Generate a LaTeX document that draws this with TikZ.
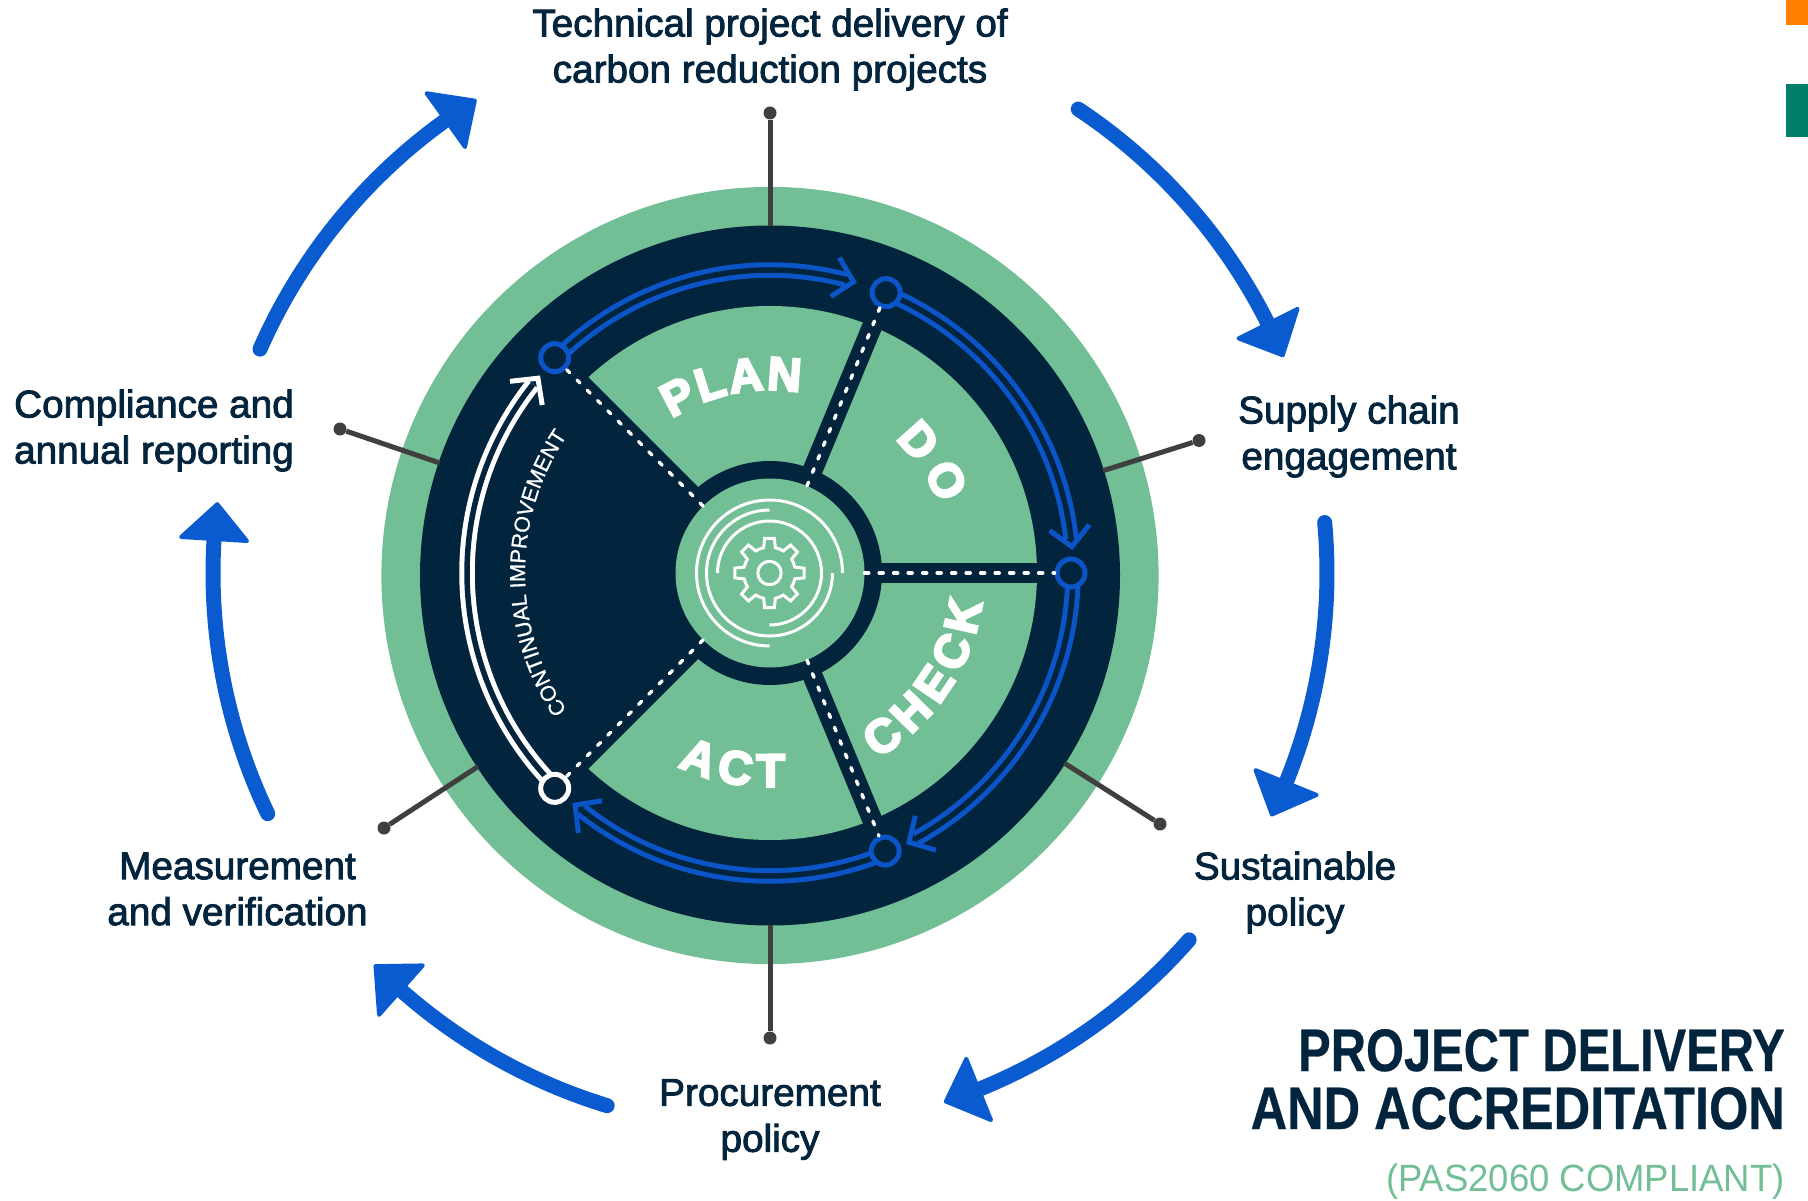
\documentclass[tikz,border=0pt]{standalone}
\usepackage{fontspec}
\usetikzlibrary{calc,decorations.text}
\setmainfont{Liberation Sans}
\newfontfamily\labfont[FakeBold=2.2]{Liberation Sans}
\newfontfamily\wedgefont[FakeBold=5]{Liberation Sans Bold}
\newfontfamily\titlefont[FakeBold=0.5]{Liberation Sans Bold}
\newfontfamily\plainfont{Liberation Sans}
\newfontfamily\smallfont[FakeBold=0.8]{Liberation Sans}
\definecolor{gr}{HTML}{72BE95}
\definecolor{nv}{HTML}{02243C}
\definecolor{bl}{HTML}{0A5BD0}
\definecolor{ibl}{HTML}{0B55C9}
\definecolor{ln}{HTML}{3F3F3F}
\definecolor{og}{HTML}{FF8000}
\definecolor{tl}{HTML}{007F68}
\tikzset{
  x=1pt,y=1pt,
  lab/.style={font=\labfont\fontsize{38.7}{46}\selectfont,text=nv,align=center,inner sep=0pt},
  lead/.style={draw=ln,line width=5pt},
  leadend/.style={circle,fill=ln,minimum size=13pt,inner sep=0pt},
  bigarc/.style={draw=bl,line width=15pt,line cap=round},
  bighead/.style={fill=bl,draw=bl,line width=4pt,line join=round},
  ringarc/.style={draw=#1,line width=5pt,double=nv,double distance=5.5pt},
  chev/.style={draw=#1,line width=5pt,line join=miter},
  ringnode/.style={circle,draw=#1,fill=nv,line width=5pt,minimum size=28pt,inner sep=0pt},
  dots/.style={draw=white,line width=3.5pt,line cap=round,dash pattern=on 4pt off 10.5pt},
  gearline/.style={draw=white,line width=3pt},
  spoke/.style={draw=nv,line width=20pt},
}
\begin{document}
\begin{tikzpicture}
\useasboundingbox (0,0) rectangle (1808,-1201);
\fill[white] (0,0) rectangle (1808,-1201);
\fill[og] (1786,0) rectangle (1808,-25);
\fill[tl] (1786,-84) rectangle (1808,-137);
\coordinate (c) at (770,-573);
\coordinate (co) at (770,-575.5);
% outer blue arrows
\begin{scope}[shift={(c)}]
\foreach \s/\t in {56.4/23,5.2/-25.7,-41.2/-71.6,-107/-135.1,205.6/172.9,156.3/122}{
  \draw[bigarc] (\s:557) arc[start angle=\s,end angle=\t+3.6,radius=557];
  \filldraw[bighead] (\t:557) -- (\t+3.6:590) -- (\t+3.6:524) -- cycle;
}
\end{scope}
% wheel outer discs
\fill[gr] (co) circle (388.6);
\fill[nv] (co) circle (350);
\begin{scope}[shift={(c)}]
\fill[gr] (0,0) circle (267);
\fill[nv] (0,0) -- (135:272) arc[start angle=135,end angle=225,radius=272] -- cycle;
\foreach \a in {135,67.5,0,-67.5,-135} \draw[spoke] (0,0) -- (\a:275);
\fill[nv] (0,0) circle (112);
\node[circle,fill=gr,minimum size=189pt,inner sep=0pt] (hub) at (0,0) {};
% ring arrows
\foreach \s/\t in {135/74,67.5/5,0/-62.7,-67.5/-130}{
  \draw[ringarc=ibl] (\s:303) arc[start angle=\s,end angle=\t+1.5,radius=303];
  \draw[chev=ibl] (\t+3.6:323) -- (\t:303) -- (\t+3.6:283);
}
\draw[ringarc=white] (225:303) arc[start angle=225,end angle=141.5,radius=303];
\draw[chev=white] (143.6:323) -- (140:303) -- (143.6:283);
\node[ringnode=ibl] (r1) at (135:304.5) {};
\node[ringnode=ibl] (r2) at (67.5:303.5) {};
\node[ringnode=ibl] (r3) at (0:301) {};
\node[ringnode=ibl] (r4) at (-67.5:301) {};
\node[ringnode=white] (r5) at (225:304.5) {};
\draw[dots] (hub.135) -- (r1);
\draw[dots] (hub.67.5) -- (r2);
\draw[dots] (hub.0) -- (r3);
\draw[dots] (hub.-67.5) -- (r4);
\draw[dots] (hub.225) -- (r5);
% gear
\draw[gearline] (-0.5,0) ++(0:73) arc[start angle=0,end angle=270,radius=73];
\draw[gearline] (-0.5,0) ++(90:63) arc[start angle=90,end angle=360,radius=63];
\draw[gearline] (-0.5,0) ++(180:52) arc[start angle=180,end angle=-90,radius=52];
\draw[gearline] (-0.5,0) circle (11.7);
\draw[gearline,shift={(-0.5,0)}] (-13:26)
  \foreach \a in {0,45,...,315}{ -- (\a-8:35) -- (\a+8:35) -- (\a+13:26) arc[start angle=\a+13,end angle=\a+32,radius=26] } -- cycle;
% wedge words
\path[decorate,decoration={text along path,text color=white,text align=fit to path,
  text={|\wedgefont\fontsize{47}{47}\selectfont|PLAN}}]
  (122.5:183) arc[start angle=122.5,end angle=80.5,radius=183];
\path[decorate,decoration={text along path,text color=white,text align=fit to path,
  text={|\wedgefont\fontsize{47}{47}\selectfont|DO}}]
  (47:183) arc[start angle=47,end angle=22,radius=183];
\path[decorate,decoration={text along path,text color=white,text align=fit to path,
  text={|\wedgefont\fontsize{47}{47}\selectfont|CHECK}}]
  (-60:214) arc[start angle=-60,end angle=-8,radius=214];
\path[decorate,decoration={text along path,text color=white,text align=fit to path,
  text={|\wedgefont\fontsize{47}{47}\selectfont|ACT}}]
  (-115.5:214) arc[start angle=-115.5,end angle=-86,radius=214];
\path[decorate,decoration={text along path,text color=white,text align=center,
  text={|\smallfont\fontsize{21.6}{22}\selectfont|CONTINUAL IMPROVEMENT}}]
  (213:245) arc[start angle=213,end angle=147,radius=245];
\end{scope}
% leaders
\node[leadend] (d1) at (770,-113) {};
\node[leadend] (d2) at (1199,-440.5) {};
\node[leadend] (d3) at (1160,-824) {};
\node[leadend] (d4) at (770,-1038) {};
\node[leadend] (d5) at (384,-828) {};
\node[leadend] (d6) at (340,-429) {};
\foreach \d in {d1,d2,d3,d4,d5,d6} \draw[lead] ($(co)!349pt!(\d)$) -- (\d);
% labels
\node[lab] (l1) at (770,-49.5) {Technical project delivery of\\carbon reduction projects};
\node[lab] (l2) at (1349,-436.5) {Supply chain\\engagement};
\node[lab] (l3) at (1295,-892.5) {Sustainable\\policy};
\node[lab] (l4) at (770,-1119.5) {Procurement\\policy};
\node[lab] (l5) at (237.5,-889) {Measurement\\and verification};
\node[lab] (l6) at (154,-430.5) {Compliance and\\annual reporting};
% title
\node[anchor=base east,inner sep=0pt,text=nv,xscale=0.814,font=\titlefont\fontsize{60}{60}\selectfont] (t1) at (1785,-1071) {PROJECT DELIVERY};
\node[anchor=base east,inner sep=0pt,text=nv,xscale=0.842,font=\titlefont\fontsize{60}{60}\selectfont] (t2) at (1785,-1129) {AND ACCREDITATION};
\node[anchor=base east,inner sep=0pt,text=gr,xscale=0.96,font=\plainfont\fontsize{38}{38}\selectfont] (t3) at (1785,-1191) {(PAS2060 COMPLIANT)};
\end{tikzpicture}
\end{document}
